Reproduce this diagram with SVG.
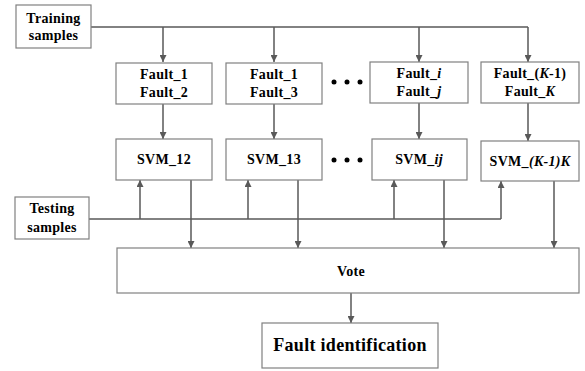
<svg xmlns="http://www.w3.org/2000/svg" width="585" height="371" viewBox="0 0 585 371">
<style>
.box{fill:#fff;stroke:#808080;stroke-width:1.2}
.ln{fill:none;stroke:#595959;stroke-width:1.5}
.t{font-family:"Liberation Serif","Times New Roman",serif;font-weight:bold;font-size:14px;fill:#000;text-anchor:middle;letter-spacing:0.3px}
.big{font-size:18px}
.dot{fill:#000}
</style>
<defs>
<marker id="ah" viewBox="0 0 10 10" refX="10" refY="5" markerWidth="7" markerHeight="7" markerUnits="userSpaceOnUse" orient="auto">
<path d="M0,0 L10,5 L0,10 z" fill="#595959"/>
</marker>
</defs>
<rect width="585" height="371" fill="#fff"/>
<g id="connectors">
<path class="ln" d="M91,27 H528"/>
<path class="ln" d="M163,27 V62" marker-end="url(#ah)"/>
<path class="ln" d="M274,27 V62" marker-end="url(#ah)"/>
<path class="ln" d="M419,27 V62" marker-end="url(#ah)"/>
<path class="ln" d="M528,27 V62" marker-end="url(#ah)"/>
<path class="ln" d="M163,104 V139" marker-end="url(#ah)"/>
<path class="ln" d="M274,104 V139" marker-end="url(#ah)"/>
<path class="ln" d="M419,103 V139" marker-end="url(#ah)"/>
<path class="ln" d="M528,103 V141" marker-end="url(#ah)"/>
<path class="ln" d="M89,219 H501"/>
<path class="ln" d="M140,219 V180" marker-end="url(#ah)"/>
<path class="ln" d="M248,219 V180" marker-end="url(#ah)"/>
<path class="ln" d="M394,219 V180" marker-end="url(#ah)"/>
<path class="ln" d="M501,219 V181" marker-end="url(#ah)"/>
<path class="ln" d="M191,180 V248" marker-end="url(#ah)"/>
<path class="ln" d="M298,180 V248" marker-end="url(#ah)"/>
<path class="ln" d="M444,180 V248" marker-end="url(#ah)"/>
<path class="ln" d="M554,181 V248" marker-end="url(#ah)"/>
<path class="ln" d="M351,293 V323" marker-end="url(#ah)"/>
</g>
<g id="training">
<rect class="box" x="16" y="5" width="75" height="43"/>
<text class="t" x="53.5" y="23">Training</text>
<text class="t" x="53.5" y="40">samples</text>
</g>
<g id="fault12">
<rect class="box" x="116" y="63" width="96" height="41"/>
<text class="t" x="164" y="79">Fault_1</text>
<text class="t" x="164" y="97">Fault_2</text>
</g>
<g id="fault13">
<rect class="box" x="226" y="63" width="96" height="41"/>
<text class="t" x="274" y="79">Fault_1</text>
<text class="t" x="274" y="97">Fault_3</text>
</g>
<g id="dots1">
<circle class="dot" cx="334" cy="82" r="2.5"/>
<circle class="dot" cx="347" cy="82" r="2.5"/>
<circle class="dot" cx="360" cy="82" r="2.5"/>
</g>
<g id="faultij">
<rect class="box" x="370" y="62" width="98" height="41"/>
<text class="t" x="419" y="78">Fault_<tspan font-style="italic">i</tspan></text>
<text class="t" x="419" y="96">Fault_<tspan font-style="italic">j</tspan></text>
</g>
<g id="faultK">
<rect class="box" x="481" y="62" width="98" height="41"/>
<text class="t" x="530" y="78">Fault_(<tspan font-style="italic">K</tspan>-1)</text>
<text class="t" x="530" y="96">Fault_<tspan font-style="italic">K</tspan></text>
</g>
<g id="svm12">
<rect class="box" x="116" y="139" width="96" height="41"/>
<text class="t" x="164" y="164">SVM_12</text>
</g>
<g id="svm13">
<rect class="box" x="226" y="139" width="96" height="41"/>
<text class="t" x="274" y="164">SVM_13</text>
</g>
<g id="dots2">
<circle class="dot" cx="334" cy="160" r="2.5"/>
<circle class="dot" cx="347" cy="160" r="2.5"/>
<circle class="dot" cx="360" cy="160" r="2.5"/>
</g>
<g id="svmij">
<rect class="box" x="372" y="139" width="95" height="41" stroke="#404040"/>
<text class="t" x="419" y="164">SVM_<tspan font-style="italic">ij</tspan></text>
</g>
<g id="svmK">
<rect class="box" x="481" y="141" width="98" height="40"/>
<text class="t" x="530" y="166">SVM_<tspan font-style="italic">(K-1)K</tspan></text>
</g>
<g id="testing">
<rect class="box" x="15" y="197" width="74" height="42"/>
<text class="t" x="52" y="213">Testing</text>
<text class="t" x="52" y="232">samples</text>
</g>
<g id="vote">
<rect class="box" x="117" y="248" width="462" height="45"/>
<text class="t" x="351" y="276">Vote</text>
</g>
<g id="fault-identification">
<rect class="box" x="262" y="323" width="176" height="45"/>
<text class="t big" x="350" y="351">Fault identification</text>
</g>
</svg>
